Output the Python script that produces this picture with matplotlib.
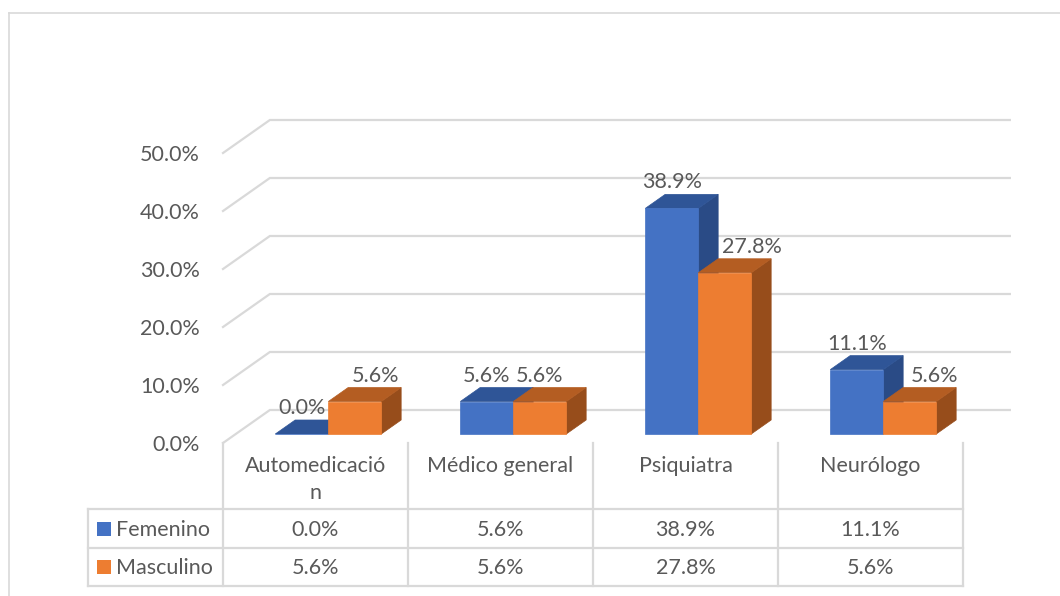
import matplotlib.pyplot as plt
from matplotlib.patches import Polygon
from matplotlib.transforms import Affine2D

plt.rcParams['font.family'] = ['Lato', 'DejaVu Sans']

categories = ['Automedicació\nn', 'Médico general', 'Psiquiatra', 'Neurólogo']
series = ['Femenino', 'Masculino']
femenino = [0.0, 5.6, 38.9, 11.1]
masculino = [5.6, 5.6, 27.8, 5.6]
yticks = [0, 10, 20, 30, 40, 50]

colors = {'Femenino': ('#4472C4', '#2F5597', '#2A4B86'),
          'Masculino': ('#ED7D31', '#B45D22', '#974D1B')}
text_col = '#595959'
grid_col = '#D9D9D9'
FS = 15.5

W, H = 1060, 596
X0, CW = 315.5, 185.0      # pixel x of first category centre, px per category
Y0, S = 443.0, 5.8         # pixel y of 0% on the front edge, px per percent
K = 1.42                   # x shift per px of depth
D_FRONT, D_BACK, D_WALL = 9, 23, 33
BW = 0.2865                # bar width in category units
label_shift = {'Femenino': [0, 0, 0, 0], 'Masculino': [21, 0, 27, 25]}

fig = plt.figure(figsize=(W / 100, H / 100), dpi=100)
ax = fig.add_axes([0, 0, 1, 1])
ax.set_xlim(-X0 / CW, (W - X0) / CW)
ax.set_ylim((Y0 - H) / S, Y0 / S)
ax.axis('off')
px = Affine2D().scale(1 / W, -1 / H).translate(0, 1) + fig.transFigure


def proj(i, v, d):
    return (i + K * d / CW, v + d / S)


# frame of the chart area
ax.plot([9, W], [13, 13], color=grid_col, lw=1.2, transform=px, clip_on=False)
ax.plot([9, 9], [13, H], color=grid_col, lw=1.2, transform=px, clip_on=False)

# walls / gridlines
for v in yticks:
    a = proj(-0.5, v, 0)
    b = proj(-0.5, v, D_WALL)
    c = proj(3.5, v, D_WALL)
    ax.plot([a[0], b[0], c[0]], [a[1], b[1], c[1]], color=grid_col, lw=1.6,
            solid_joinstyle='miter', zorder=1)
    ax.text(200, Y0 - S * v + 2, f'{v:.1f}%', transform=px, ha='right',
            va='center', fontsize=FS, color=text_col)

# 3d bars
for s, vals in zip(series, [femenino, masculino]):
    front, top, side = colors[s]
    for i, v in enumerate(vals):
        x0 = i - BW if s == 'Femenino' else i
        x1 = x0 + BW
        ax.add_patch(Polygon([proj(x1, 0, D_FRONT), proj(x1, 0, D_BACK),
                              proj(x1, v, D_BACK), proj(x1, v, D_FRONT)],
                             closed=True, fc=side, ec=side, lw=0.5, zorder=3))
        ax.add_patch(Polygon([proj(x0, v, D_FRONT), proj(x1, v, D_FRONT),
                              proj(x1, v, D_BACK), proj(x0, v, D_BACK)],
                             closed=True, fc=top, ec=top, lw=0.5, zorder=3))
        fx, fy = proj(x0, 0, D_FRONT)
        ax.bar(fx, v, width=BW, bottom=fy, align='edge', color=front,
               edgecolor=front, lw=0.5, zorder=3)
        lx = proj((x0 + x1) / 2, v, D_FRONT)[0]
        ly = proj((x0 + x1) / 2, v, D_BACK)[1]
        ax.annotate(f'{v:.1f}%', (lx, ly), xytext=(label_shift[s][i], 12),
                    textcoords='offset pixels', ha='center', va='center',
                    fontsize=FS, color=text_col, zorder=5)

# data table
tab_left, tab_right = 88, X0 + CW * 3.5
rows_y = [509, 548, 586]
for y in rows_y:
    ax.plot([tab_left, tab_right], [y, y], color=grid_col, lw=1.6,
            transform=px, clip_on=False)
ax.plot([tab_left, tab_left], [rows_y[0], rows_y[-1]], color=grid_col, lw=1.6,
        transform=px, clip_on=False)
for k in range(len(categories) + 1):
    xb = X0 + CW * (k - 0.5)
    ax.plot([xb, xb], [443, rows_y[-1]], color=grid_col, lw=1.6,
            transform=px, clip_on=False)

for i, cat in enumerate(categories):
    xc = X0 + CW * i
    ax.text(xc, 456, cat, transform=px, ha='center', va='top', fontsize=FS,
            color=text_col, linespacing=1.45)
    for r, vals in enumerate([femenino, masculino]):
        yc = (rows_y[r] + rows_y[r + 1]) / 2 + 1
        ax.text(xc, yc, f'{vals[i]:.1f}%', transform=px, ha='center',
                va='center', fontsize=FS, color=text_col)

for r, s in enumerate(series):
    yc = (rows_y[r] + rows_y[r + 1]) / 2
    ax.add_patch(Polygon([(97, yc - 7), (111, yc - 7), (111, yc + 7), (97, yc + 7)],
                         closed=True, fc=colors[s][0], ec='none', transform=px))
    ax.text(116, yc + 1, s, transform=px, ha='left', va='center', fontsize=FS,
            color=text_col)

fig.savefig('out.png', dpi=100, facecolor='white')
